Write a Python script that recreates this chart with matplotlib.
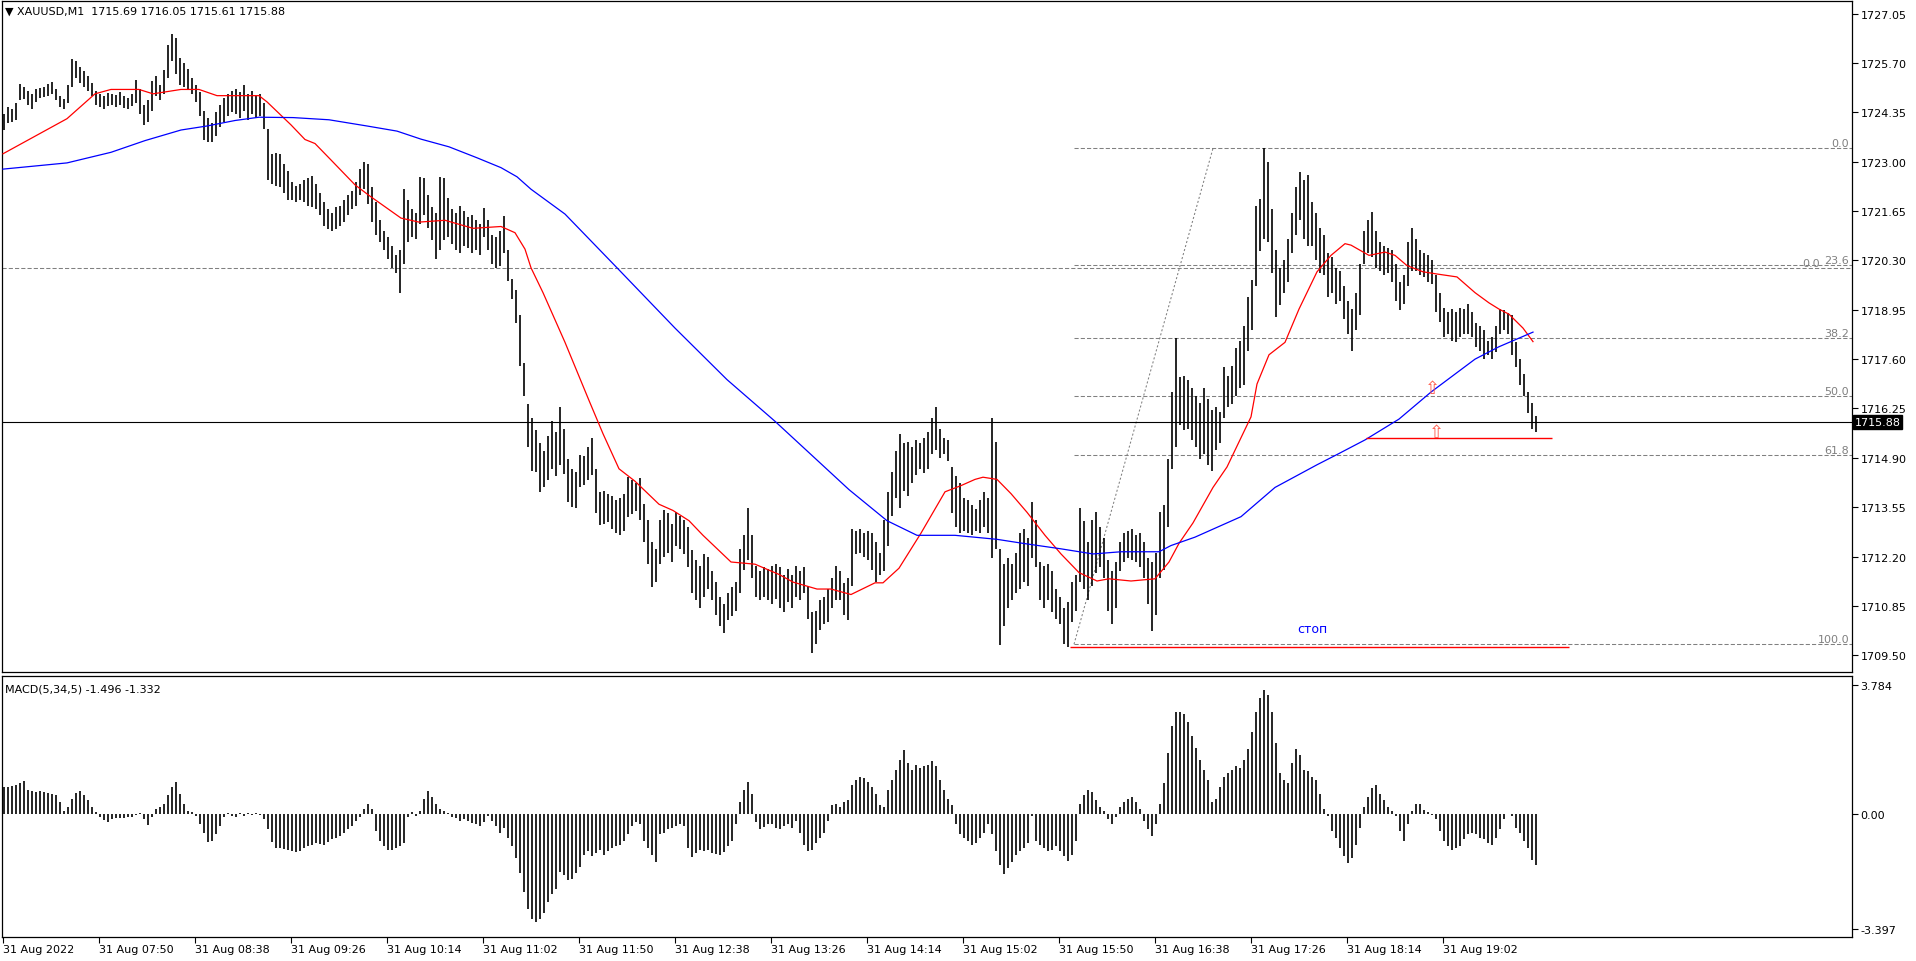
import numpy as np
import matplotlib
matplotlib.use('Agg')
import matplotlib.pyplot as plt
import matplotlib.transforms as mtransforms

# Price bars (2-minute bars, high / low).
bar_high = [
    1724.30, 1724.50, 1724.45, 1724.60, 1725.13, 1725.05, 1724.95, 1724.85, 1724.98, 1725.02,
    1725.05, 1725.12, 1725.18, 1725.00, 1724.80, 1724.72, 1725.10, 1725.81, 1725.75, 1725.60,
    1725.48, 1725.35, 1725.15, 1724.95, 1724.85, 1724.80, 1724.88, 1724.85, 1724.82, 1724.90,
    1724.80, 1724.75, 1724.85, 1725.25, 1725.00, 1724.55, 1724.70, 1725.20, 1725.35, 1725.10,
    1725.50, 1726.20, 1726.49, 1726.40, 1725.85, 1725.70, 1725.55, 1725.30, 1725.10, 1724.90,
    1724.40, 1724.20, 1724.05, 1724.35, 1724.55, 1724.75, 1724.85, 1724.95, 1725.00, 1724.90,
    1725.10, 1724.85, 1724.95, 1724.80, 1724.85, 1724.60, 1723.90, 1723.20, 1723.25, 1723.20,
    1722.95, 1722.75, 1722.45, 1722.35, 1722.40, 1722.50, 1722.55, 1722.60, 1722.40, 1722.15,
    1721.90, 1721.70, 1721.60, 1721.75, 1721.80, 1721.95, 1722.10, 1722.20, 1722.45, 1722.80,
    1723.00, 1722.95, 1722.30, 1721.90, 1721.40, 1721.10, 1720.95, 1720.70, 1720.45, 1720.60,
    1722.25, 1721.95, 1721.70, 1721.60, 1722.58, 1722.55, 1722.10, 1721.75, 1721.60, 1722.58,
    1722.55, 1722.00, 1721.70, 1721.60, 1721.80, 1721.65, 1721.50, 1721.55, 1721.40, 1721.30,
    1721.74, 1721.40, 1721.00, 1720.95, 1721.10, 1721.52, 1720.60, 1719.80, 1719.50, 1718.80,
    1717.50, 1716.36, 1716.00, 1715.67, 1715.30, 1715.10, 1715.50, 1715.90, 1715.60, 1716.30,
    1715.70, 1714.88, 1714.60, 1714.50, 1714.99, 1714.95, 1715.20, 1715.45, 1714.60, 1713.97,
    1714.00, 1713.90, 1713.86, 1713.75, 1713.80, 1713.90, 1714.37, 1714.30, 1714.20, 1714.35,
    1713.63, 1713.20, 1712.60, 1712.40, 1713.20, 1713.46, 1713.40, 1713.10, 1713.41, 1713.30,
    1713.20, 1713.00, 1712.39, 1712.10, 1711.95, 1712.27, 1712.20, 1711.80, 1711.50, 1711.10,
    1710.90, 1711.20, 1711.36, 1711.50, 1712.40, 1712.80, 1713.52, 1712.80, 1711.93, 1711.80,
    1711.90, 1711.85, 1711.93, 1712.00, 1711.90, 1711.70, 1711.85, 1711.70, 1711.93, 1711.80,
    1711.90, 1711.40, 1710.69, 1710.70, 1711.02, 1711.10, 1711.30, 1711.60, 1711.93, 1711.80,
    1711.48, 1711.60, 1712.95, 1712.90, 1712.95, 1712.85, 1712.90, 1712.84, 1712.60, 1712.30,
    1713.20, 1713.97, 1714.50, 1715.10, 1715.56, 1715.30, 1715.33, 1715.20, 1715.39, 1715.30,
    1715.45, 1715.60, 1716.00, 1716.30, 1715.70, 1715.45, 1715.40, 1714.65, 1714.40, 1714.20,
    1713.80, 1713.75, 1713.60, 1713.50, 1713.75, 1713.97, 1713.80, 1716.00, 1715.33, 1712.40,
    1712.00, 1712.16, 1712.00, 1712.30, 1712.84, 1712.95, 1712.70, 1713.69, 1713.20, 1712.05,
    1711.93, 1712.00, 1711.80, 1711.30, 1711.10, 1710.80, 1710.95, 1711.50, 1711.70, 1713.52,
    1713.18, 1712.60, 1713.20, 1713.41, 1713.00, 1712.70, 1712.10, 1711.80, 1712.05, 1712.60,
    1712.84, 1712.90, 1712.95, 1712.80, 1712.84, 1712.60, 1712.16, 1712.05, 1712.30, 1713.41,
    1713.60, 1714.88, 1716.70, 1718.17, 1717.10, 1717.15, 1717.04, 1716.80, 1716.60, 1716.40,
    1716.80, 1716.50, 1716.20, 1716.30, 1716.15, 1717.38, 1717.15, 1717.40, 1717.90, 1718.10,
    1718.51, 1719.30, 1719.76, 1721.80, 1721.97, 1723.39, 1723.00, 1721.70, 1720.60, 1720.10,
    1720.30, 1720.90, 1721.60, 1722.30, 1722.71, 1722.50, 1722.65, 1721.90, 1721.60, 1721.20,
    1721.00, 1720.50, 1720.40, 1720.10, 1720.00, 1719.60, 1719.20, 1718.97, 1719.40, 1720.20,
    1721.10, 1721.40, 1721.63, 1721.10, 1720.80, 1720.70, 1720.65, 1720.60, 1720.20, 1719.70,
    1719.90, 1720.80, 1721.18, 1720.90, 1720.60, 1720.50, 1720.45, 1720.30, 1719.90, 1719.40,
    1719.00, 1718.90, 1718.97, 1718.90, 1719.00, 1718.97, 1719.10, 1718.90, 1718.60, 1718.51,
    1718.40, 1718.10, 1718.20, 1718.51, 1718.97, 1718.95, 1718.85, 1718.80, 1718.06, 1717.60,
    1717.20, 1716.70, 1716.40, 1716.05,
]
bar_low = [
    1723.88, 1724.05, 1724.10, 1724.15, 1724.70, 1724.72, 1724.55, 1724.45, 1724.65, 1724.75,
    1724.78, 1724.80, 1724.85, 1724.70, 1724.50, 1724.45, 1724.62, 1725.05, 1725.30, 1725.15,
    1725.05, 1724.95, 1724.80, 1724.55, 1724.50, 1724.45, 1724.52, 1724.55, 1724.50, 1724.55,
    1724.48, 1724.45, 1724.52, 1724.60, 1724.30, 1724.00, 1724.10, 1724.40, 1724.80, 1724.70,
    1724.85, 1725.30, 1725.75, 1725.40, 1725.10, 1725.05, 1725.00, 1724.85, 1724.65, 1724.25,
    1723.60, 1723.55, 1723.55, 1723.70, 1723.95, 1724.10, 1724.25, 1724.35, 1724.30, 1724.20,
    1724.40, 1724.15, 1724.30, 1724.20, 1724.25, 1723.90, 1722.50, 1722.40, 1722.35, 1722.30,
    1722.15, 1721.95, 1721.95, 1721.90, 1721.95, 1721.90, 1721.80, 1721.75, 1721.70, 1721.55,
    1721.25, 1721.15, 1721.10, 1721.15, 1721.25, 1721.35, 1721.55, 1721.70, 1721.80, 1722.10,
    1722.25, 1721.85, 1721.35, 1721.00, 1720.80, 1720.60, 1720.35, 1720.10, 1719.95, 1719.42,
    1720.20, 1720.80, 1720.95, 1720.90, 1721.30, 1721.55, 1721.20, 1720.85, 1720.35, 1720.60,
    1720.85, 1720.95, 1720.75, 1720.60, 1720.50, 1720.70, 1720.65, 1720.50, 1720.60, 1720.45,
    1720.95, 1720.60, 1720.20, 1720.10, 1720.15, 1720.50, 1719.75, 1719.25, 1718.60, 1717.40,
    1716.60, 1715.20, 1714.55, 1714.50, 1713.97, 1714.10, 1714.30, 1714.60, 1714.40, 1714.70,
    1714.45, 1713.70, 1713.55, 1713.52, 1714.09, 1714.15, 1714.30, 1714.43, 1713.40, 1713.07,
    1713.10, 1713.15, 1712.95, 1712.85, 1712.78, 1712.90, 1713.29, 1713.35, 1713.45, 1713.20,
    1712.60, 1712.00, 1711.36, 1711.50, 1712.00, 1712.20, 1712.30, 1712.05, 1712.50, 1712.40,
    1712.27, 1711.90, 1711.20, 1711.00, 1710.80, 1711.10, 1711.30, 1711.00, 1710.60, 1710.30,
    1710.12, 1710.45, 1710.57, 1710.70, 1711.20, 1711.82, 1712.10, 1711.60, 1711.10, 1711.02,
    1711.10, 1711.00, 1710.90, 1711.05, 1710.80, 1710.69, 1710.95, 1710.80, 1711.10, 1711.02,
    1711.20, 1710.50, 1709.55, 1709.80, 1710.20, 1710.35, 1710.40, 1710.80, 1711.00, 1711.02,
    1710.60, 1710.46, 1711.40, 1712.27, 1712.30, 1712.20, 1712.10, 1711.82, 1711.50, 1711.70,
    1711.80, 1712.50, 1713.30, 1713.80, 1713.52, 1714.00, 1713.86, 1714.20, 1714.43, 1714.60,
    1714.48, 1714.60, 1715.00, 1715.11, 1714.90, 1715.00, 1714.80, 1713.40, 1713.00, 1712.84,
    1712.90, 1712.84, 1712.78, 1712.90, 1712.84, 1713.00, 1712.84, 1712.16, 1712.40, 1709.78,
    1710.30, 1710.80, 1711.00, 1711.20, 1711.31, 1711.50, 1711.40, 1712.16, 1711.90, 1711.02,
    1710.80, 1711.00, 1710.69, 1710.50, 1710.34, 1709.80, 1709.72, 1710.40, 1710.70, 1711.50,
    1711.30, 1711.02, 1711.40, 1711.76, 1711.90, 1711.60, 1710.70, 1710.34, 1710.80, 1711.80,
    1712.05, 1712.16, 1712.10, 1712.05, 1711.90, 1711.60, 1710.91, 1710.17, 1710.60, 1711.60,
    1711.82, 1713.00, 1714.60, 1715.20, 1715.80, 1715.67, 1715.70, 1715.40, 1715.20, 1714.88,
    1715.00, 1714.70, 1714.54, 1715.11, 1715.30, 1716.00, 1716.30, 1716.36, 1716.60, 1716.80,
    1716.90, 1717.83, 1718.40, 1719.60, 1720.55, 1720.90, 1720.80, 1719.95, 1718.74, 1719.08,
    1719.42, 1719.70, 1720.50, 1721.00, 1721.40, 1720.90, 1720.70, 1720.70, 1720.30, 1719.95,
    1719.90, 1719.30, 1719.42, 1719.10, 1719.19, 1718.70, 1718.30, 1717.83, 1718.40, 1718.80,
    1720.20, 1720.50, 1720.40, 1720.10, 1720.00, 1719.90, 1719.95, 1719.70, 1719.20, 1718.95,
    1719.10, 1719.60, 1720.00, 1720.00, 1719.90, 1719.85, 1719.70, 1719.65, 1718.90, 1718.62,
    1718.20, 1718.30, 1718.10, 1718.06, 1718.20, 1718.30, 1718.28, 1718.20, 1717.94, 1717.83,
    1717.60, 1717.72, 1717.60, 1717.80, 1718.30, 1718.40, 1718.30, 1717.72, 1717.38, 1716.90,
    1716.58, 1716.13, 1715.70, 1715.61,
]

# MACD(5,34,5) histogram, one value per 2-minute bar
macd_hist = [
    0.78, 0.80, 0.82, 0.85, 0.92, 0.96, 0.72, 0.68, 0.66, 0.67,
    0.65, 0.63, 0.60, 0.55, 0.35, 0.10, 0.20, 0.45, 0.62, 0.67,
    0.55, 0.40, 0.20, 0.05, -0.08, -0.18, -0.24, -0.15, -0.12, -0.12,
    -0.12, -0.10, -0.08, -0.03, 0.02, -0.15, -0.33, -0.10, 0.15, 0.20,
    0.30, 0.55, 0.80, 0.94, 0.60, 0.30, 0.10, 0.05, -0.05, -0.30,
    -0.55, -0.82, -0.80, -0.60, -0.35, -0.10, 0.03, -0.05, -0.08, 0.02,
    -0.05, 0.03, -0.02, 0.03, -0.03, -0.15, -0.45, -0.82, -1.00, -1.00,
    -1.02, -1.05, -1.10, -1.12, -1.08, -1.00, -0.95, -0.90, -0.85, -0.88,
    -0.92, -0.82, -0.75, -0.70, -0.65, -0.55, -0.45, -0.35, -0.20, -0.10,
    0.15, 0.30, 0.15, -0.50, -0.80, -0.95, -1.07, -1.05, -1.00, -0.95,
    -0.85, -0.10, 0.05, -0.05, 0.08, 0.45, 0.67, 0.50, 0.30, 0.15,
    0.08, 0.02, -0.08, -0.12, -0.20, -0.15, -0.22, -0.28, -0.30, -0.35,
    -0.25, -0.05, -0.20, -0.35, -0.55, -0.40, -0.70, -0.95, -1.30, -1.75,
    -2.30, -2.80, -3.10, -3.18, -3.10, -2.90, -2.60, -2.35, -2.20, -1.70,
    -1.80, -1.95, -1.90, -1.75, -1.55, -1.20, -1.10, -1.25, -1.15, -1.05,
    -1.20, -1.10, -1.00, -0.95, -0.90, -0.80, -0.60, -0.35, -0.25, -0.30,
    -0.80, -1.00, -1.20, -1.40, -0.60, -0.55, -0.45, -0.40, -0.35, -0.30,
    -0.35, -1.00, -1.26, -1.15, -1.05, -1.10, -1.05, -1.15, -1.18, -1.20,
    -1.12, -0.95, -0.80, -0.30, 0.35, 0.70, 0.94, 0.60, -0.25, -0.45,
    -0.38, -0.30, -0.30, -0.42, -0.45, -0.35, -0.30, -0.40, -0.20, -0.55,
    -0.90, -1.08, -1.05, -0.85, -0.70, -0.55, -0.20, 0.25, 0.30, 0.20,
    0.35, 0.40, 0.85, 1.00, 1.08, 1.05, 0.95, 0.80, 0.60, 0.25,
    0.20, 0.70, 1.00, 1.30, 1.60, 1.87, 1.50, 1.30, 1.45, 1.35,
    1.40, 1.45, 1.55, 1.40, 1.00, 0.70, 0.45, 0.25, -0.30, -0.60,
    -0.70, -0.80, -0.90, -0.85, -0.70, -0.55, -0.30, -0.60, -1.10, -1.50,
    -1.77, -1.60, -1.40, -1.20, -1.10, -1.00, -0.85, -0.05, -0.80, -0.90,
    -1.00, -1.10, -1.05, -0.95, -1.10, -1.25, -1.38, -1.20, -0.80, 0.30,
    0.55, 0.70, 0.65, 0.40, 0.20, 0.10, -0.15, -0.30, -0.10, 0.20,
    0.35, 0.45, 0.50, 0.35, 0.15, -0.20, -0.45, -0.65, -0.30, 0.30,
    0.90, 1.80, 2.60, 3.00, 3.00, 2.95, 2.70, 2.30, 1.95, 1.60,
    1.30, 1.00, 0.35, 0.45, 0.80, 1.10, 1.20, 1.30, 1.40, 1.35,
    1.60, 1.90, 2.40, 3.00, 3.40, 3.64, 3.50, 3.00, 2.10, 1.20,
    1.00, 0.90, 1.50, 1.92, 1.75, 1.30, 1.25, 1.10, 1.00, 0.60,
    0.15, -0.05, -0.50, -0.70, -1.00, -1.25, -1.45, -1.30, -0.90, -0.40,
    0.20, 0.50, 0.75, 0.84, 0.60, 0.40, 0.20, 0.08, -0.05, -0.50,
    -0.80, -0.30, 0.10, 0.30, 0.28, 0.12, 0.05, -0.03, -0.15, -0.50,
    -0.80, -0.95, -1.05, -1.00, -0.95, -0.75, -0.60, -0.55, -0.60, -0.70,
    -0.75, -0.85, -0.90, -0.70, -0.45, -0.15, 0.00, -0.05, -0.40, -0.55,
    -0.80, -1.00, -1.35, -1.50,
]

# Moving averages (minute-bar index, value)
ma_red_idx = [0, 32, 46, 54, 68, 75, 89, 98, 107, 128, 132, 144, 151, 156, 164, 176, 183,
              199, 208, 221, 235, 249, 256, 261, 264, 270, 281, 293, 300, 308, 316, 328,
              335, 343, 350, 364, 376, 388, 395, 407, 414, 424, 436, 440, 448, 459, 471,
              479, 486, 490, 497, 504, 512, 521, 529, 538, 547, 553, 564, 576, 583, 588,
              595, 605, 612, 619, 624, 627, 633, 641, 648, 657, 664, 671, 674, 683, 691,
              696, 702, 710, 717, 727, 736, 743, 748, 753, 760, 765]
ma_red_val = [1723.22, 1724.18, 1724.86, 1724.98, 1724.98, 1724.86, 1724.98, 1724.98, 1724.81,
              1724.81, 1724.64, 1724.01, 1723.61, 1723.50, 1723.05, 1722.37, 1722.08, 1721.46,
              1721.35, 1721.40, 1721.18, 1721.23, 1721.06, 1720.61, 1720.10, 1719.42, 1718.06,
              1716.47, 1715.56, 1714.60, 1714.26, 1713.63, 1713.46, 1713.18, 1712.78, 1712.05,
              1711.99, 1711.71, 1711.50, 1711.31, 1711.31, 1711.16, 1711.48, 1711.48, 1711.88,
              1712.84, 1713.97, 1714.14, 1714.31, 1714.37, 1714.31, 1713.92, 1713.41, 1712.78,
              1712.27, 1711.76, 1711.53, 1711.59, 1711.53, 1711.59, 1712.05, 1712.56, 1713.12,
              1714.09, 1714.65, 1715.45, 1716.02, 1716.92, 1717.72, 1718.06, 1718.97, 1719.99,
              1720.44, 1720.76, 1720.72, 1720.44, 1720.53, 1720.44, 1720.16, 1719.99, 1719.93,
              1719.85, 1719.42, 1719.14, 1718.97, 1718.83, 1718.45, 1718.08]
ma_blue_idx = [0, 32, 54, 71, 89, 102, 116, 128, 145, 163, 182, 197, 209, 223, 237, 249, 257,
               264, 281, 307, 336, 362, 386, 405, 423, 442, 457, 476, 497, 510, 529, 545,
               559, 578, 584, 596, 619, 636, 657, 667, 681, 698, 714, 736, 748, 765]
ma_blue_val = [1722.80, 1722.97, 1723.26, 1723.58, 1723.87, 1723.98, 1724.13, 1724.22, 1724.21,
               1724.15, 1723.98, 1723.84, 1723.62, 1723.41, 1723.11, 1722.84, 1722.59, 1722.25,
               1721.57, 1720.10, 1718.45, 1717.04, 1715.90, 1714.94, 1714.03, 1713.18, 1712.78,
               1712.78, 1712.67, 1712.56, 1712.41, 1712.27, 1712.33, 1712.33, 1712.50, 1712.73,
               1713.29, 1714.09, 1714.71, 1714.99, 1715.39, 1715.96, 1716.70, 1717.60, 1717.94,
               1718.34]

time_labels = ['31 Aug 2022', '31 Aug 07:50', '31 Aug 08:38', '31 Aug 09:26', '31 Aug 10:14',
               '31 Aug 11:02', '31 Aug 11:50', '31 Aug 12:38', '31 Aug 13:26', '31 Aug 14:14',
               '31 Aug 15:02', '31 Aug 15:50', '31 Aug 16:38', '31 Aug 17:26', '31 Aug 18:14',
               '31 Aug 19:02']
time_tick_idx = [0, 48, 96, 144, 192, 240, 288, 336, 384, 432, 480, 528, 576, 624, 672, 720]
price_ticks = [1709.50, 1710.85, 1712.20, 1713.55, 1714.90, 1716.25, 1717.60, 1718.95,
               1720.30, 1721.65, 1723.00, 1724.35, 1725.70, 1727.05]
macd_ticks = [3.784, 0.0, -3.397]
macd_tick_labels = ['3.784', '0.00', '-3.397']

# Fibonacci retracement drawn on the chart
fib_ratios = [0.0, 23.6, 38.2, 50.0, 61.8, 100.0]
fib_high = 1723.37
fib_low = 1709.80
fib_start, fib_end = 535.5, 605.0
extra_level = 1720.10
last_price = 1715.88
stop_price = 1709.72
stop_from, stop_to = 533.5, 783.0
line2_price = 1715.43
line2_from, line2_to = 681.7, 774.4
arrows = [(714.5, 1716.81), (716.5, 1715.60)]

W, H = 1916, 962
fig = plt.figure(figsize=(W / 100, H / 100), dpi=100)
fig.patch.set_facecolor('white')


def px_axes(x0, y0, x1, y1):
    return fig.add_axes([x0 / W, 1 - y1 / H, (x1 - x0) / W, (y1 - y0) / H])


ax = px_axes(2, 2, 1852, 673)
ax2 = px_axes(2, 677, 1852, 938)

xmin, xmax = -0.5, 924.5
grey = '#808080'
right_lab = mtransforms.blended_transform_factory(ax.transAxes, ax.transData)

# Price bars
xb = np.arange(len(bar_high)) * 2 + 0.5
ax.vlines(xb, bar_low, bar_high, color='black', lw=1.2, zorder=3)

# Moving averages
ax.plot(ma_red_idx, ma_red_val, color='#ff0000', lw=0.9, zorder=4)
ax.plot(ma_blue_idx, ma_blue_val, color='#0000ff', lw=0.9, zorder=4)

# Fibonacci levels
for r in fib_ratios:
    lvl = fib_high - r / 100 * (fib_high - fib_low)
    ax.hlines(lvl, fib_start, xmax, color=grey, lw=0.75, linestyles=(0, (4, 2)), zorder=2)
    ax.text(0.9985, lvl, '%.1f' % r, transform=right_lab,
            ha='right', va='bottom', fontsize=8, color=grey)
ax.plot([fib_start, fib_end], [fib_low, fib_high], color=grey, lw=0.75, ls=(0, (2, 2)), zorder=2)

# second retracement level running across the whole chart
ax.axhline(extra_level, color=grey, lw=0.75, ls=(0, (4, 2)), zorder=2)
ax.text(0.9825, extra_level, '0.0', transform=right_lab,
        ha='right', va='bottom', fontsize=8, color=grey)

# Objects: stop line, level line, arrows
ax.hlines(stop_price, stop_from, stop_to, color='#ff0000', lw=1, zorder=4)
ax.hlines(line2_price, line2_from, line2_to, color='#ff0000', lw=1, zorder=4)
ax.text(654.7, 1710.23, 'стоп', color='#0000ff', fontsize=9, ha='center', va='center')
for arr_x, arr_y in arrows:
    ax.text(arr_x, arr_y, '\u21e7', color='#ff5a4a', fontsize=13, ha='center', va='center', zorder=5)

# Last price line + label
ax.axhline(last_price, color='black', lw=0.8, zorder=3)
ax.text(1.0015, last_price, '%.2f' % last_price, transform=right_lab,
        ha='left', va='center', fontsize=8, color='white', zorder=6, clip_on=False,
        bbox=dict(boxstyle='square,pad=0.15', fc='black', ec='black'))

ax.set_xlim(xmin, xmax)
ax.set_ylim(1709.04, 1727.40)
ax.set_xticks([])
ax.yaxis.tick_right()
ax.set_yticks(price_ticks)
ax.set_yticklabels(['%.2f' % p for p in price_ticks])
ax.tick_params(axis='y', direction='out', length=4, width=0.8, labelsize=8, pad=2)

fig.text(5 / W, 1 - 12 / H, '\u25bc XAUUSD,M1  1715.69 1716.05 1715.61 1715.88',
         fontsize=8, va='center', ha='left')

# MACD panel
xm = np.arange(len(macd_hist)) * 2 + 0.5
ax2.vlines(xm, 0, macd_hist, color='black', lw=1.2)
ax2.set_xlim(xmin, xmax)
ax2.set_ylim(-3.62, 4.06)
ax2.yaxis.tick_right()
ax2.set_yticks(macd_ticks)
ax2.set_yticklabels(macd_tick_labels)
ax2.tick_params(axis='y', direction='out', length=4, width=0.8, labelsize=8, pad=2)
ax2.set_xticks(time_tick_idx)
ax2.set_xticklabels(time_labels, ha='left')
ax2.tick_params(axis='x', direction='out', length=4, width=0.8, labelsize=8, pad=1)
fig.text(5 / W, 1 - 689 / H, 'MACD(5,34,5) -1.496 -1.332', fontsize=8, va='center', ha='left')

for a in (ax, ax2):
    for s in a.spines.values():
        s.set_linewidth(0.9)
        s.set_color('black')

fig.savefig('out.png', dpi=100)
